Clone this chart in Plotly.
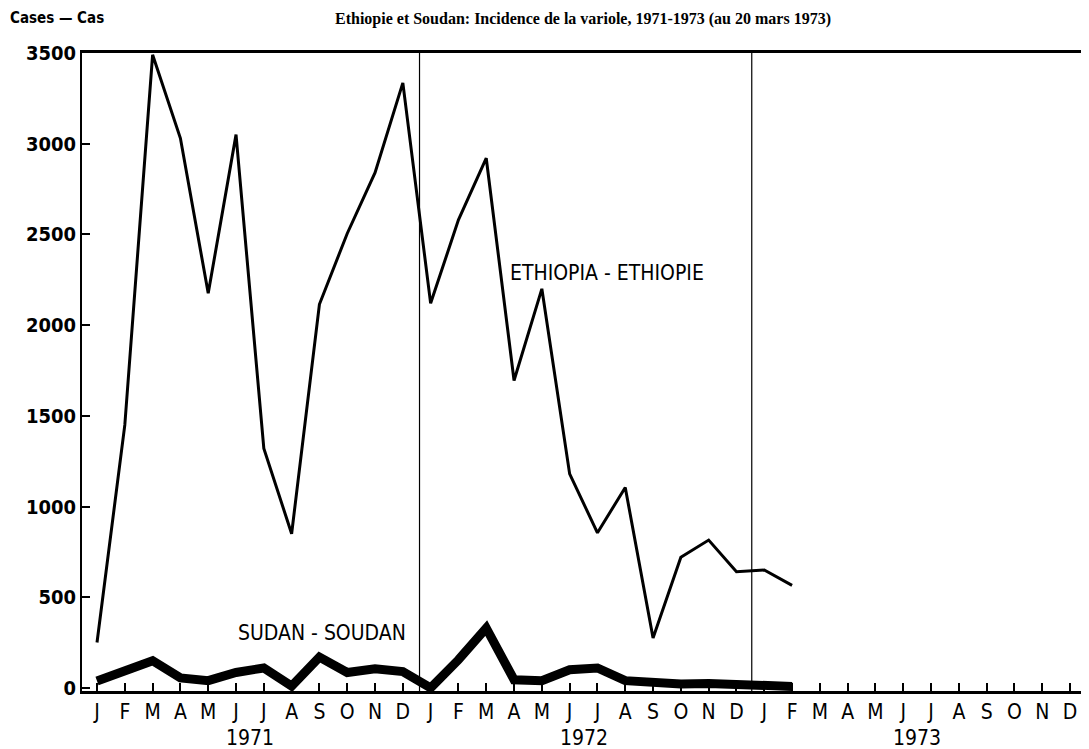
import plotly.graph_objects as go

months = ["J", "F", "M", "A", "M", "J", "J", "A", "S", "O", "N", "D"] * 3
years = ["1971", "1972", "1973"]
ethiopia = [250, 1450, 3490, 3030, 2175, 3050, 1320, 850, 2115, 2505, 2840, 3335,
            2120, 2580, 2920, 1695, 2200, 1180, 855, 1105, 275, 720, 815, 640,
            650, 565]
sudan = [38, 88, 150, 55, 40, 85, 110, 10, 170, 85, 105, 90,
         0, 155, 330, 45, 40, 100, 110, 40, 28, 22, 25, 20,
         10, 8]
ytick_vals = [0, 500, 1000, 1500, 2000, 2500, 3000, 3500]
ytick_text = ["0", "500", "1000", "1500", "2000", "2500", "3000", "3500"]

narrow = "Liberation Sans Narrow, DejaVu Sans Condensed, Arial Narrow, sans-serif"

idx = list(range(len(months)))

fig = go.Figure()
fig.add_trace(go.Scatter(x=idx[:len(ethiopia)], y=ethiopia, mode="lines",
                         line=dict(color="black", width=3), showlegend=False))
fig.add_trace(go.Scatter(x=idx[:len(sudan)], y=sudan, mode="lines",
                         line=dict(color="black", width=9), showlegend=False))

for xv in [11.6, 23.55]:
    fig.add_shape(type="line", xref="x", yref="paper", x0=xv, x1=xv, y0=0, y1=1,
                  line=dict(color="black", width=1.2))

fig.update_xaxes(range=[-0.54, 35.5], tickvals=idx, ticktext=months,
                 ticks="inside", ticklen=8, tickwidth=1.5, tickcolor="black",
                 showline=True, linecolor="black", linewidth=2.5, mirror=True,
                 showgrid=False, zeroline=False,
                 tickfont=dict(family=narrow, size=21, color="black"))
fig.update_yaxes(range=[-17, 3500], tickvals=ytick_vals, ticktext=ytick_text,
                 ticks="inside", ticklen=8, tickwidth=1.5, tickcolor="black",
                 showline=True, linecolor="black", linewidth=2, mirror=True,
                 showgrid=False, zeroline=False,
                 tickfont=dict(family=narrow, size=20, color="black", weight="bold"))

for i, yr in enumerate(years):
    fig.add_annotation(x=5.5 + 12 * i, y=-0.073, xref="x", yref="paper", text=yr,
                       showarrow=False, yanchor="middle",
                       font=dict(family=narrow, size=21, color="black"))

fig.add_annotation(x=14.8, y=2290, xref="x", yref="y", text="ETHIOPIA - ETHIOPIE",
                   showarrow=False, xanchor="left", yanchor="middle",
                   font=dict(family=narrow, size=21, color="black"))
fig.add_annotation(x=5.0, y=300, xref="x", yref="y", text="SUDAN - SOUDAN",
                   showarrow=False, xanchor="left", yanchor="middle",
                   font=dict(family=narrow, size=21, color="black"))

fig.add_annotation(x=0, y=10, xref="paper", yref="paper", text="", showarrow=False,
                   visible=False)
fig.add_annotation(x=-74 / 1004, y=1 + 35 / 638, xref="paper", yref="paper",
                   text="Cases — Cas", showarrow=False, xanchor="left", yanchor="middle",
                   font=dict(family=narrow, size=15, color="black", weight="bold"))
fig.add_annotation(x=0.5, y=1 + 45 / 638, xref="paper", yref="paper",
                   text="Ethiopie et Soudan: Incidence de la variole, 1971-1973 (au 20 mars 1973)",
                   showarrow=False, xanchor="center", yanchor="top",
                   font=dict(family="Liberation Serif, Times New Roman, serif", size=16,
                             color="black", weight="bold"))

fig.update_layout(width=1081, height=741, margin=dict(l=74, r=3, t=45, b=58),
                  plot_bgcolor="white", paper_bgcolor="white")

fig.write_html("out.html")
